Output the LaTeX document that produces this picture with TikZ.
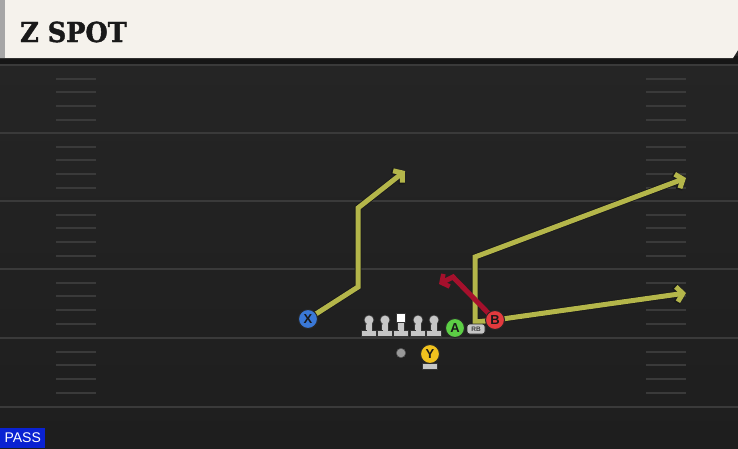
\documentclass[tikz,border=0pt]{standalone}
\usepackage{fontspec}
\setmainfont{Liberation Sans}
\newfontfamily\titlefont[FakeStretch=0.93,FakeBold=1.5]{DejaVu Serif}
\usetikzlibrary{arrows.meta}
\definecolor{fieldbg}{HTML}{262626}
\definecolor{fieldbot}{HTML}{1E1E1E}
\definecolor{yardcol}{HTML}{3A3A3A}
\definecolor{hashcol}{HTML}{3A3A3A}
\definecolor{cream}{HTML}{F5F2EC}
\definecolor{hdredge}{HTML}{A6A6A6}
\definecolor{hdrshadow}{HTML}{161616}
\definecolor{routeyel}{HTML}{B4B64A}
\definecolor{routered}{HTML}{A5102C}
\definecolor{pblue}{HTML}{3A78D6}
\definecolor{pgreen}{HTML}{5CCF45}
\definecolor{pred}{HTML}{E23A3E}
\definecolor{pyellow}{HTML}{F1C21E}
\definecolor{linegray}{HTML}{C6C6C6}
\definecolor{passblue}{HTML}{0A22D2}
\tikzset{
  yardline/.style={draw=yardcol, line width=2pt},
  hashline/.style={draw=hashcol, line width=2pt},
  routeunder/.style={draw=black!90, line width=6.6pt, line join=miter,
    -{Straight Barb[length=6.5pt,width=17pt,line width=6.6pt]}},
  route/.style={draw=routeyel, line width=5pt, line join=miter,
    -{Straight Barb[length=6pt,width=15pt,line width=5pt]}},
  redroute/.style={draw=routered, line width=5pt, line join=miter,
    -{Straight Barb[length=5.5pt,width=14pt,line width=4.6pt]}},
  player/.style={circle, draw=black!85, line width=1pt, minimum size=19pt, inner sep=0pt,
    font=\bfseries\fontsize{13}{13}\selectfont, text=black!90},
  lineman/.pic={
    \fill[linegray, draw=black!80, line width=0.7pt] (-7.5,10) rectangle (7.5,16.5);
    \fill[linegray, draw=black!80, line width=0.7pt] (-3.2,0) rectangle (3.2,10.3);
    \fill[linegray, draw=black!80, line width=0.7pt] (0,0) circle (5pt);
    \fill[linegray] (-2.5,0) rectangle (2.5,10.6);
  },
  centerman/.pic={
    \fill[linegray, draw=black!80, line width=0.7pt] (-7.5,10) rectangle (7.5,16.5);
    \fill[linegray, draw=black!80, line width=0.7pt] (-3.2,1) rectangle (3.2,10.3);
    \fill[linegray] (-2.5,1) rectangle (2.5,10.6);
    \fill[white, draw=black!80, line width=0.7pt] (-4.7,-6.5) rectangle (4.7,2.2);
  }
}
\begin{document}
\begin{tikzpicture}[x=1pt,y=-1pt]
\useasboundingbox (0,0) rectangle (738,448);
\shade[top color=fieldbg, bottom color=fieldbot] (0,0) rectangle (738,448);
% yard lines and hashes
\foreach \yy in {65,133,201,269,338,407} {
  \draw[yardline] (0,\yy) -- (738,\yy);
}
\foreach \yy in {65,133,201,269,338} {
  \foreach \k in {1,...,4} {
    \draw[hashline] (56,{round(\yy+13.7*\k)}) -- (96,{round(\yy+13.7*\k)});
    \draw[hashline] (646,{round(\yy+13.7*\k)}) -- (686,{round(\yy+13.7*\k)});
  }
}
% header
\fill[hdrshadow] (0,56) rectangle (738,64);
\fill[cream] (0,0) -- (738,0) -- (738,50) -- (733,58) -- (0,58) -- cycle;
\fill[hdredge] (0,0) rectangle (4.5,58);
\node[anchor=base west, inner sep=0pt, text=black!90,
  font=\titlefont\bfseries\fontsize{27.5}{27.5}\selectfont] (title) at (20,42) {Z SPOT};
% player positions
\coordinate (Xp) at (308,319);
\coordinate (Ap) at (455,328);
\coordinate (Bp) at (495,320);
\coordinate (Yp) at (430,354);
% route waypoints
\coordinate (x1) at (358,287);
\coordinate (x2) at (358,208);
\coordinate (x3) at (405,171);
\coordinate (r1) at (475,322);
\coordinate (r2) at (475,257);
\coordinate (r3) at (686,178);
\coordinate (b1) at (686,293);
\coordinate (k1) at (453,277);
\coordinate (k2) at (439,284);
% routes
\draw[routeunder] (Xp) -- (x1) -- (x2) -- (x3);
\draw[routeunder] (Bp) -- (r1) -- (r2) -- (r3);
\draw[routeunder] (Bp) -- (b1);
\draw[route] (Xp) -- (x1) -- (x2) -- (x3);
\draw[route] (Bp) -- (r1) -- (r2) -- (r3);
\draw[route] (Bp) -- (b1);
\draw[redroute] (Bp) -- (k1) -- (k2);
% offensive line
\pic at (369,320) {lineman};
\pic at (385,320) {lineman};
\pic at (401,320) {centerman};
\pic at (418,320) {lineman};
\pic at (434,320) {lineman};
% players
\node[player, fill=pblue] (X) at (Xp) {X};
\node[player, fill=pgreen] (A) at (Ap) {A};
\node[draw=black!85, fill=linegray, rounded corners=2.5pt, line width=0.8pt,
  minimum width=18pt, minimum height=10pt, inner sep=0pt,
  font=\bfseries\fontsize{6.5}{6.5}\selectfont, text=black!75] (RB) at (476,329) {RB};
\node[player, fill=pred] (B) at (Bp) {B};
\fill[linegray, draw=black!80, line width=0.7pt] (422.5,363) rectangle (437.5,369.5);
\node[player, fill=pyellow] (Y) at (Yp) {Y};
\node[circle, fill=gray!80, draw=black!70, line width=0.5pt, minimum size=9.5pt, inner sep=0pt] (ball) at (401,353) {};
% pass tag
\node[fill=passblue, text=white, anchor=south west, minimum width=45pt, minimum height=20pt,
  inner sep=0pt, font=\fontsize{14}{14}\selectfont] (pass) at (0,448) {PASS};
\end{tikzpicture}
\end{document}
